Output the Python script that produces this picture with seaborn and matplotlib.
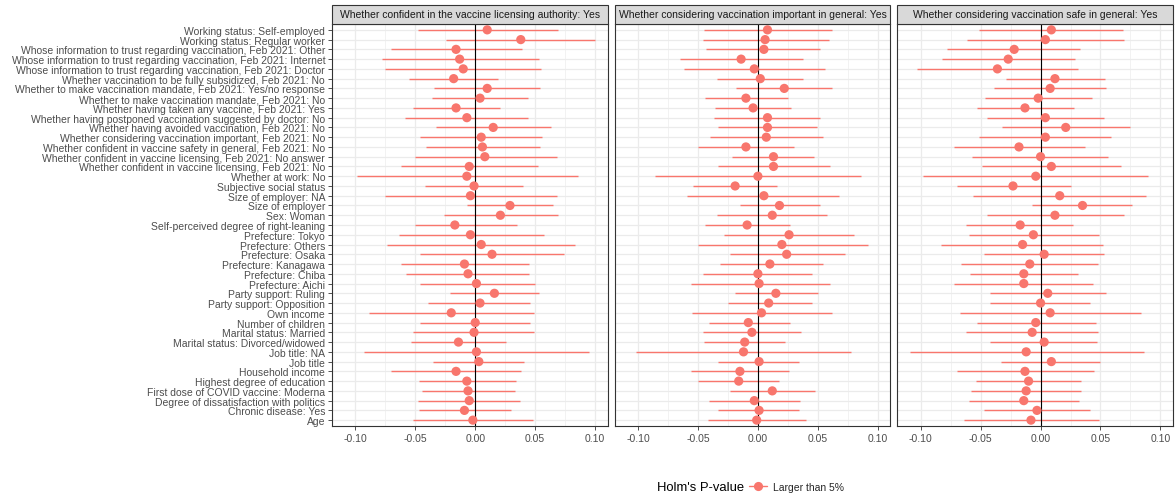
import numpy as np
import pandas as pd
import matplotlib
matplotlib.use("Agg")
import matplotlib.pyplot as plt
from matplotlib.patches import Rectangle
from matplotlib.lines import Line2D
import seaborn as sns

# Regression terms, listed from top row to bottom row
terms = [
    "Working status: Self-employed",
    "Working status: Regular worker",
    "Whose information to trust regarding vaccination, Feb 2021: Other",
    "Whose information to trust regarding vaccination, Feb 2021: Internet",
    "Whose information to trust regarding vaccination, Feb 2021: Doctor",
    "Whether vaccination to be fully subsidized, Feb 2021: No",
    "Whether to make vaccination mandate, Feb 2021: Yes/no response",
    "Whether to make vaccination mandate, Feb 2021: No",
    "Whether having taken any vaccine, Feb 2021: Yes",
    "Whether having postponed vaccination suggested by doctor: No",
    "Whether having avoided vaccination, Feb 2021: No",
    "Whether considering vaccination important, Feb 2021: No",
    "Whether confident in vaccine safety in general, Feb 2021: No",
    "Whether confident in vaccine licensing, Feb 2021: No answer",
    "Whether confident in vaccine licensing, Feb 2021: No",
    "Whether at work: No",
    "Subjective social status",
    "Size of employer: NA",
    "Size of employer",
    "Sex: Woman",
    "Self-perceived degree of right-leaning",
    "Prefecture: Tokyo",
    "Prefecture: Others",
    "Prefecture: Osaka",
    "Prefecture: Kanagawa",
    "Prefecture: Chiba",
    "Prefecture: Aichi",
    "Party support: Ruling",
    "Party support: Opposition",
    "Own income",
    "Number of children",
    "Marital status: Married",
    "Marital status: Divorced/widowed",
    "Job title: NA",
    "Job title",
    "Household income",
    "Highest degree of education",
    "First dose of COVID vaccine: Moderna",
    "Degree of dissatisfaction with politics",
    "Chronic disease: Yes",
    "Age",
]

outcomes = [
    "Whether confident in the vaccine licensing authority: Yes",
    "Whether considering vaccination important in general: Yes",
    "Whether considering vaccination safe in general: Yes",
]

# Outcome 1: confidence in the licensing authority
est_authority = [0.010, 0.038, -0.016, -0.013, -0.010, -0.018, 0.010, 0.004, -0.016, -0.007,
                 0.015, 0.005, 0.006, 0.008, -0.005, -0.007, -0.001, -0.004, 0.029, 0.021,
                 -0.017, -0.004, 0.005, 0.014, -0.009, -0.006, 0.001, 0.016, 0.004, -0.020,
                 0.000, -0.001, -0.014, 0.001, 0.003, -0.016, -0.007, -0.006, -0.005, -0.009,
                 -0.002]
lo_authority = [-0.048, -0.024, -0.070, -0.078, -0.075, -0.055, -0.034, -0.036, -0.052, -0.059,
                -0.033, -0.046, -0.041, -0.050, -0.062, -0.099, -0.042, -0.075, -0.007, -0.026,
                -0.050, -0.064, -0.074, -0.046, -0.062, -0.058, -0.046, -0.021, -0.039, -0.089,
                -0.046, -0.052, -0.054, -0.093, -0.035, -0.070, -0.047, -0.044, -0.048, -0.047,
                -0.052]
hi_authority = [0.069, 0.100, 0.039, 0.053, 0.055, 0.019, 0.054, 0.044, 0.021, 0.044,
                0.063, 0.056, 0.054, 0.068, 0.052, 0.086, 0.040, 0.068, 0.065, 0.069,
                0.035, 0.057, 0.083, 0.074, 0.045, 0.045, 0.050, 0.053, 0.046, 0.049,
                0.046, 0.049, 0.026, 0.095, 0.041, 0.038, 0.034, 0.033, 0.037, 0.030,
                0.048]

# Outcome 2: vaccination considered important
est_important = [0.008, 0.006, 0.005, -0.014, -0.003, 0.002, 0.022, -0.010, -0.004, 0.008,
                 0.008, 0.007, -0.010, 0.013, 0.013, 0.000, -0.019, 0.005, 0.018, 0.012,
                 -0.009, 0.026, 0.020, 0.024, 0.010, 0.000, 0.001, 0.015, 0.009, 0.003,
                 -0.008, -0.005, -0.011, -0.012, 0.001, -0.015, -0.016, 0.012, -0.003, 0.001,
                 -0.001]
lo_important = [-0.045, -0.046, -0.043, -0.065, -0.062, -0.034, -0.018, -0.044, -0.036, -0.037,
                -0.033, -0.040, -0.050, -0.022, -0.033, -0.086, -0.054, -0.059, -0.015, -0.034,
                -0.044, -0.028, -0.050, -0.023, -0.032, -0.046, -0.056, -0.019, -0.025, -0.055,
                -0.041, -0.046, -0.045, -0.102, -0.033, -0.056, -0.050, -0.023, -0.041, -0.033,
                -0.042]
hi_important = [0.062, 0.059, 0.052, 0.038, 0.056, 0.038, 0.062, 0.025, 0.028, 0.052,
                0.049, 0.054, 0.030, 0.047, 0.060, 0.086, 0.016, 0.068, 0.052, 0.058,
                0.027, 0.080, 0.092, 0.073, 0.054, 0.045, 0.060, 0.050, 0.045, 0.062,
                0.027, 0.036, 0.023, 0.078, 0.034, 0.026, 0.018, 0.048, 0.035, 0.034,
                0.040]

# Outcome 3: vaccination considered safe
est_safe = [0.009, 0.004, -0.022, -0.027, -0.036, 0.012, 0.008, -0.002, -0.013, 0.004,
            0.021, 0.004, -0.018, 0.000, 0.009, -0.004, -0.023, 0.016, 0.035, 0.012,
            -0.017, -0.006, -0.015, 0.003, -0.009, -0.014, -0.014, 0.006, 0.000, 0.008,
            -0.004, -0.007, 0.003, -0.012, 0.009, -0.013, -0.010, -0.012, -0.014, -0.003,
            -0.008]
lo_safe = [-0.051, -0.061, -0.078, -0.082, -0.103, -0.029, -0.039, -0.046, -0.053, -0.045,
           -0.032, -0.051, -0.072, -0.057, -0.049, -0.098, -0.070, -0.056, -0.007, -0.045,
           -0.062, -0.060, -0.083, -0.047, -0.066, -0.059, -0.072, -0.042, -0.042, -0.067,
           -0.053, -0.062, -0.042, -0.109, -0.033, -0.070, -0.054, -0.058, -0.060, -0.047,
           -0.064]
hi_safe = [0.069, 0.070, 0.033, 0.029, 0.031, 0.054, 0.055, 0.043, 0.028, 0.053,
           0.075, 0.059, 0.037, 0.056, 0.067, 0.090, 0.025, 0.088, 0.076, 0.070,
           0.027, 0.049, 0.052, 0.053, 0.048, 0.031, 0.044, 0.055, 0.041, 0.084,
           0.046, 0.048, 0.047, 0.086, 0.050, 0.045, 0.034, 0.034, 0.032, 0.041,
           0.049]

x_ticks = [-0.10, -0.05, 0.00, 0.05, 0.10]
x_tick_labels = ["-0.10", "-0.05", "0.00", "0.05", "0.10"]
holm_level = "Larger than 5%"

RED = "#F8766D"
GRID = "#EBEBEB"
DARK = "#333333"

n = len(terms)
frames = []
for outcome, est, lo, hi in zip(
        outcomes,
        [est_authority, est_important, est_safe],
        [lo_authority, lo_important, lo_safe],
        [hi_authority, hi_important, hi_safe]):
    frames.append(pd.DataFrame({
        "term": terms,
        "pos": np.arange(n - 1, -1, -1),
        "outcome": outcome,
        "estimate": est,
        "lo": lo,
        "hi": hi,
        "holm": holm_level,
    }))
df = pd.concat(frames, ignore_index=True)

sns.set_theme(style="white")
plt.rcParams["font.family"] = ["Liberation Sans", "DejaVu Sans"]
plt.rcParams["axes.unicode_minus"] = False

W, H = 1175, 502
fig, axes = plt.subplots(1, 3, figsize=(W / 100, H / 100), dpi=100, sharey=True)
fig.subplots_adjust(left=332 / W, right=1173 / W, top=1 - 25 / H, bottom=1 - 427 / H,
                    wspace=0.0254)

TICK_FS = 7.5
for i, (ax, outcome) in enumerate(zip(axes, outcomes)):
    d = df[df["outcome"] == outcome]
    ax.set_facecolor("white")
    ax.hlines(d["pos"], d["lo"], d["hi"], color=RED, lw=1.0, zorder=3)
    sns.scatterplot(data=d, x="estimate", y="pos", hue="holm", palette={holm_level: RED},
                    s=44, edgecolor="none", linewidth=0, legend=False, ax=ax, zorder=4)
    ax.axvline(0, color="black", lw=0.8, zorder=3.5)

    ax.set_xlim(-0.1195, 0.1105)
    ax.set_ylim(-0.6, n - 1 + 0.6)
    ax.set_xticks(x_ticks)
    ax.set_xticklabels(x_tick_labels)
    ax.set_xticks([-0.075, -0.025, 0.025, 0.075], minor=True)
    ax.set_yticks(np.arange(n - 1, -1, -1))
    ax.set_yticklabels(terms)
    ax.grid(True, which="major", color=GRID, lw=0.9, zorder=0)
    ax.grid(True, which="minor", axis="x", color=GRID, lw=0.45, zorder=0)
    ax.set_axisbelow(True)
    ax.set_xlabel("")
    ax.set_ylabel("")
    for sp in ax.spines.values():
        sp.set_color(DARK)
        sp.set_linewidth(0.8)
        sp.set_visible(True)
    ax.tick_params(axis="x", which="major", length=2.75, width=0.6, color=DARK,
                   labelsize=TICK_FS, labelcolor="#4D4D4D", pad=2.2, bottom=True)
    ax.tick_params(axis="x", which="minor", length=0)
    if i == 0:
        ax.tick_params(axis="y", length=2.75, width=0.6, color=DARK, labelsize=TICK_FS,
                       labelcolor="#4D4D4D", pad=2.2, left=True)
    else:
        ax.tick_params(axis="y", length=0, labelleft=False)

    # facet strip
    strip_h = 19 / 402
    ax.add_patch(Rectangle((0, 1), 1, strip_h, transform=ax.transAxes, clip_on=False,
                           facecolor="#D9D9D9", edgecolor=DARK, lw=0.8, zorder=5))
    ax.text(0.5, 1 + strip_h / 2, outcome, transform=ax.transAxes, ha="center",
            va="center", fontsize=TICK_FS, color="#1A1A1A", zorder=6)

# legend at the bottom
ly = 1 - 488 / H
fig.text(744 / W, ly, "Holm's P-value", ha="right", va="center", fontsize=9.4,
         color="black")
handle = Line2D([], [], color=RED, marker="o", markersize=6.6, lw=1.0,
                markeredgewidth=0)
fig.legend(handles=[handle], labels=[holm_level], loc="center left",
           bbox_to_anchor=(749 / W, ly), frameon=False, fontsize=TICK_FS,
           handlelength=1.75, handletextpad=0.6, borderpad=0, borderaxespad=0)

fig.savefig("out.png", dpi=100, facecolor="white")
